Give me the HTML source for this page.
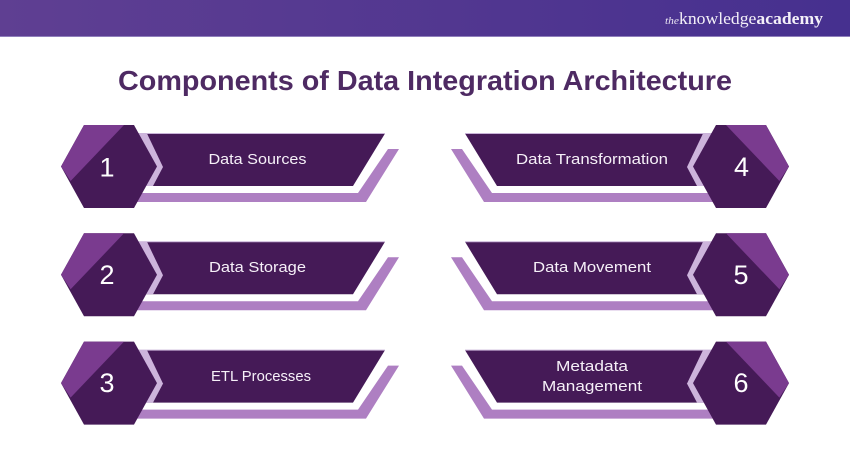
<!DOCTYPE html>
<html><head><meta charset="utf-8"><style>
html,body{margin:0;padding:0;background:#fff;width:850px;height:450px;overflow:hidden}
svg{display:block}
text{font-family:"Liberation Sans",sans-serif}
</style></head><body>
<svg width="850" height="450" viewBox="0 0 850 450" xmlns="http://www.w3.org/2000/svg">
<defs>
<linearGradient id="h" x1="0" x2="1" y1="0" y2="0"><stop offset="0" stop-color="#5f3f92"/><stop offset="1" stop-color="#46308f"/></linearGradient>
<g id="row">
<polygon points="399,149 388,149 358,193 130,193 130,202 366,202" fill="#ae7fc2"/>
<polygon points="135,133.500 385,133.500 353,186 135,186" fill="#451a57"/>
<polygon points="135,133 385,133 385,134 135,134" fill="#c9b3d8"/>
<polygon points="125,133.500 147,133.500 163,167 153,186 125,186" fill="#cdb4dc"/>
<polygon points="84,125 134,125 157,166.500 134,208 84,208 61,166.500" fill="#451a57"/>
<polygon points="84,125 124,125 70.600,181 61,166.500" fill="#7a3b8f"/>
</g>
</defs>
<rect width="850" height="37" fill="url(#h)"/>
<rect y="36" width="850" height="1" fill="#8f7fbb"/>
<text x="665" y="24" font-style="italic" font-size="11" fill="#e8e2f2" textLength="14" lengthAdjust="spacingAndGlyphs" style="font-family:'Liberation Serif',serif">the</text>
<text x="679" y="24" font-size="17" fill="#f3f0f8" textLength="144" lengthAdjust="spacingAndGlyphs" style="font-family:'Liberation Serif',serif">knowledge<tspan font-weight="bold">academy</tspan></text>
<text x="425" y="90" text-anchor="middle" font-size="28" font-weight="bold" fill="#4e2a63" textLength="614" lengthAdjust="spacingAndGlyphs">Components of Data Integration Architecture</text>

<use href="#row"/>
<use href="#row" y="108.300"/>
<use href="#row" y="216.600"/>
<g transform="translate(850,0) scale(-1,1)">
<use href="#row"/>
<use href="#row" y="108.300"/>
<use href="#row" y="216.600"/>
</g>

<g fill="#fff" font-size="27" text-anchor="middle">
<text x="107" y="176.500">1</text>
<text x="107" y="284">2</text>
<text x="107" y="392">3</text>
<text x="741.500" y="176">4</text>
<text x="741" y="284">5</text>
<text x="741" y="392">6</text>
</g>
<g fill="#f6f0f8" font-size="14.500" text-anchor="middle">
<text x="257.500" y="164" textLength="98" lengthAdjust="spacingAndGlyphs">Data Sources</text>
<text x="257.500" y="272" textLength="97" lengthAdjust="spacingAndGlyphs">Data Storage</text>
<text x="261" y="381" textLength="100" lengthAdjust="spacingAndGlyphs">ETL Processes</text>
<text x="592" y="164" textLength="152" lengthAdjust="spacingAndGlyphs">Data Transformation</text>
<text x="592" y="272" textLength="118" lengthAdjust="spacingAndGlyphs">Data Movement</text>
<text x="592" y="371" textLength="72" lengthAdjust="spacingAndGlyphs">Metadata</text>
<text x="592" y="391" textLength="100" lengthAdjust="spacingAndGlyphs">Management</text>
</g>
</svg>
</body></html>
